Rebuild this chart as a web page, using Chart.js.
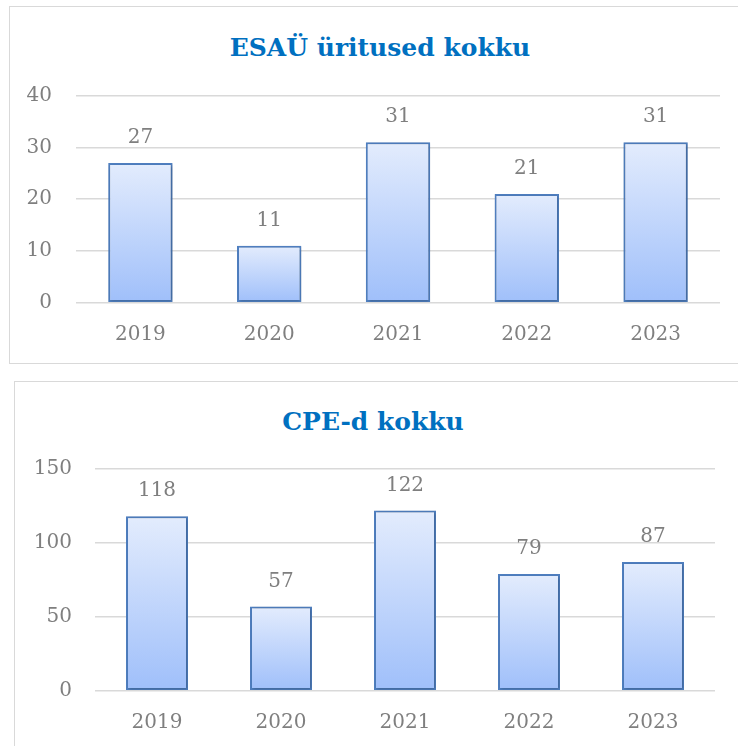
<!DOCTYPE html>
<html>
<head>
<meta charset="utf-8">
<script src="https://cdn.jsdelivr.net/npm/chart.js@4.4.1/dist/chart.umd.min.js"></script>
<style>
  html, body { margin: 0; padding: 0; background: #fff; overflow: hidden; }
  body { width: 738px; height: 746px; position: relative; }
  .box { position: absolute; border: 1.5px solid #d9d9d9; box-sizing: border-box; }
  .wrap { position: absolute; }
  .title {
    position: absolute; transform: translate(-50%, -50%); white-space: nowrap;
    font-family: 'DejaVu Serif', serif; font-weight: bold; font-size: 25px; color: #0070c0;
  }
</style>
</head>
<body>
<div class="box" style="left:9px; top:6px; width:740px; height:358px;"></div>
<div class="box" style="left:14px; top:381px; width:740px; height:380px;"></div>
<div class="title" style="left:380px; top:47px;">ESAÜ üritused kokku</div>
<div class="title" style="left:373px; top:421px;">CPE-d kokku</div>
<div class="wrap" style="left:10px; top:7px; width:728px; height:356px;"><canvas id="chart-esau"></canvas></div>
<div class="wrap" style="left:15px; top:382px; width:723px; height:364px;"><canvas id="chart-cpe"></canvas></div>
<script>
const years = ["2019", "2020", "2021", "2022", "2023"];
const esauEvents = [27, 11, 31, 21, 31];
const cpeTotals = [118, 57, 122, 79, 87];
const esauAxis = { max: 40, step: 10 };
const cpeAxis = { max: 150, step: 50 };

const GRAY = "#7f7f7f";
const FONT = "'DejaVu Serif', serif";

function barGradient(context) {
  const chart = context.chart;
  if (!chart.chartArea || !chart.scales.y) return "#c6d9fa";
  const y = chart.scales.y;
  const top = y.getPixelForValue(context.raw);
  const bottom = y.getPixelForValue(0);
  const g = chart.ctx.createLinearGradient(0, top, 0, bottom);
  g.addColorStop(0, "#e3ecfd");
  g.addColorStop(1, "#9fbffa");
  return g;
}

const valueLabels = {
  id: "valueLabels",
  afterDatasetsDraw(chart) {
    const ctx = chart.ctx;
    const meta = chart.getDatasetMeta(0);
    const data = chart.data.datasets[0].data;
    ctx.save();
    ctx.fillStyle = GRAY;
    ctx.font = `20px ${FONT}`;
    ctx.textAlign = "center";
    ctx.textBaseline = "middle";
    meta.data.forEach((bar, i) => {
      ctx.fillText(String(data[i]), bar.x, bar.y - 25);
    });
    ctx.restore();
  },
};

const barShadow = {
  id: "barShadow",
  beforeDatasetsDraw(chart) {
    const ctx = chart.ctx;
    ctx.save();
    ctx.shadowColor = "rgba(0,0,0,0.25)";
    ctx.shadowBlur = 3;
    ctx.shadowOffsetX = 1;
    ctx.shadowOffsetY = 1;
  },
  afterDatasetsDraw(chart) {
    chart.ctx.restore();
  },
};

function makeChart(id, values, axis, geo) {
  return new Chart(document.getElementById(id), {
    type: "bar",
    data: {
      labels: years,
      datasets: [{
        data: values,
        backgroundColor: barGradient,
        borderColor: "#4f7fc0",
        borderWidth: 2,
        borderSkipped: false,
        barPercentage: 0.5,
        categoryPercentage: 1,
      }],
    },
    options: {
      responsive: true,
      maintainAspectRatio: false,
      animation: false,
      layout: { padding: { left: 0, right: geo.right, top: geo.top, bottom: geo.bottom } },
      plugins: {
        legend: { display: false },
        tooltip: { enabled: false },
      },
      scales: {
        x: {
          grid: { display: false },
          border: { display: false },
          ticks: { color: GRAY, font: { family: FONT, size: 20 }, padding: 12 },
          afterFit(scale) { scale.height = 41; },
        },
        y: {
          min: 0,
          max: axis.max,
          grid: { color: "#d9d9d9", lineWidth: 1.5, drawTicks: false },
          border: { display: false },
          ticks: {
            stepSize: axis.step,
            color: GRAY,
            font: { family: FONT, size: 20 },
            padding: geo.tickPad,
          },
          afterFit(scale) { scale.width = geo.yWidth; },
        },
      },
    },
    plugins: [barShadow, valueLabels],
  });
}

makeChart("chart-esau", esauEvents, esauAxis,
  { right: 18, top: 88.7, bottom: 19.3, tickPad: 24, yWidth: 66 });
makeChart("chart-cpe", cpeTotals, cpeAxis,
  { right: 23, top: 87, bottom: 14.3, tickPad: 23, yWidth: 80 });
</script>
</body>
</html>
